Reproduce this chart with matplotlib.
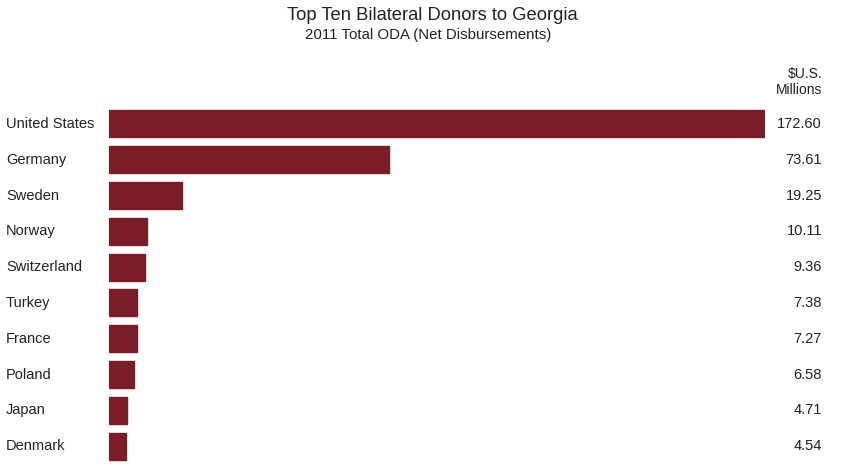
import matplotlib
matplotlib.use("Agg")
import matplotlib.pyplot as plt

plt.rcParams['font.family'] = ['Liberation Sans', 'DejaVu Sans']

donors = ['United States', 'Germany', 'Sweden', 'Norway', 'Switzerland',
          'Turkey', 'France', 'Poland', 'Japan', 'Denmark']
oda = [172.60, 73.61, 19.25, 10.11, 9.36, 7.38, 7.27, 6.58, 4.71, 4.54]

W, H = 852, 472
fig = plt.figure(figsize=(W / 100, H / 100), dpi=100)
fig.patch.set_facecolor('white')

# axes: bars start at x=109px, longest bar ends at x=765px
ax = fig.add_axes([109 / W, 8 / H, (765 - 109) / W, (464 - 106) / H])
ypos = range(len(donors))
ax.barh(ypos, oda, height=0.75, color='#7b1d27', edgecolor='#7b1d27')
ax.set_xlim(0, 172.6)
ax.set_ylim(len(donors) - 0.5, -0.5)
ax.axis('off')

for i, (name, val) in enumerate(zip(donors, oda)):
    y = 1 - (124 + i * 35.8) / H
    fig.text(6 / W, y, name, ha='left', va='center', fontsize=10.5, color='#222222')
    fig.text(822 / W, y, '%.2f' % val, ha='right', va='center', fontsize=10.5, color='#222222')

fig.text(822 / W, 1 - 82 / H, '$U.S.\nMillions', ha='right', va='center',
         fontsize=10, color='#222222', linespacing=1.1)

fig.text(432 / W, 1 - 15 / H, 'Top Ten Bilateral Donors to Georgia', ha='center', va='center',
         fontsize=13.2, color='#222222')
fig.text(428 / W, 1 - 35 / H, '2011 Total ODA (Net Disbursements)', ha='center', va='center',
         fontsize=10.8, color='#222222')

plt.savefig('out.png', dpi=100)
